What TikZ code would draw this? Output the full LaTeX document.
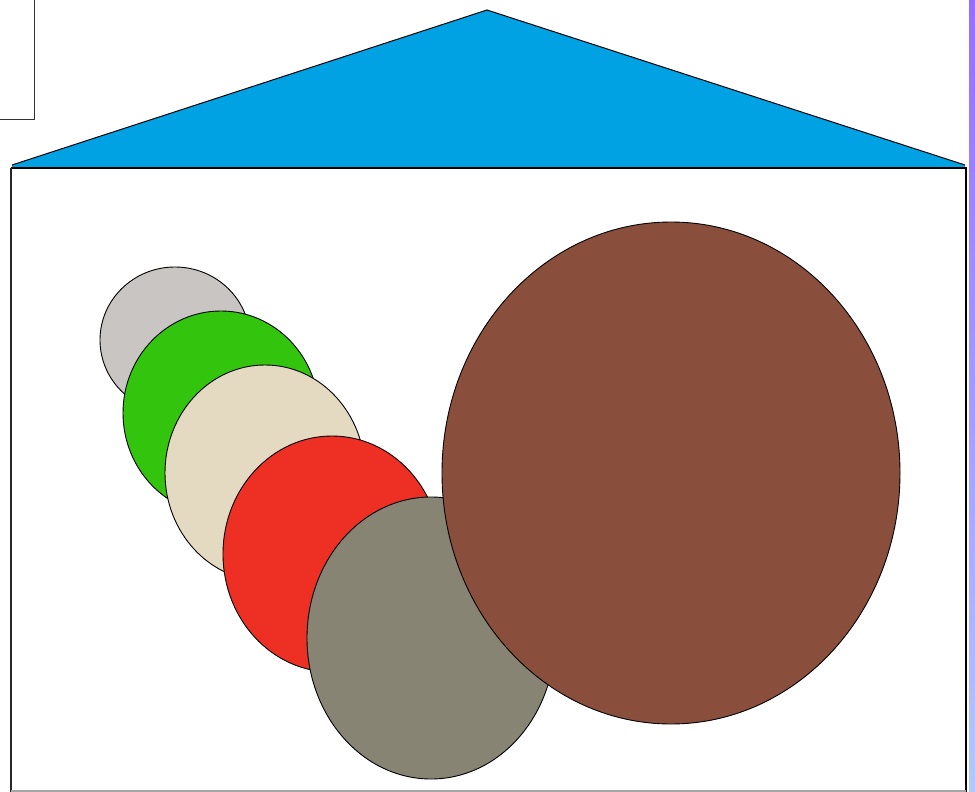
\documentclass[tikz,border=0pt]{standalone}
\begin{document}
\begin{tikzpicture}[x=1pt,y=-1pt]
\definecolor{roofblue}{RGB}{0,162,228}
\definecolor{cgray}{RGB}{200,197,194}
\definecolor{cgreen}{RGB}{51,196,14}
\definecolor{cbeige}{RGB}{228,218,194}
\definecolor{cred}{RGB}{238,47,35}
\definecolor{colive}{RGB}{135,132,116}
\definecolor{cbrown}{RGB}{138,78,60}
\definecolor{stripTop}{RGB}{150,110,255}
\definecolor{stripBot}{RGB}{180,200,255}
\tikzset{ball/.style={draw=black,line width=0.9pt}}
\useasboundingbox (0,0) rectangle (975,792);
\fill[white] (0,0) rectangle (975,792);
% top-left box edges
\draw[black!80,line width=0.9pt] (0,119) -- (34,119) -- (34,0);
% right strip
\shade[top color=stripTop,bottom color=stripBot] (969,0) rectangle (975,792);
% roof
\fill[roofblue] (12,167) -- (12,165) -- (487,10) -- (965,165) -- (965,167) -- cycle;
\draw[black,line width=1pt] (12,165) -- (487,10) -- (965,165);
% house
\draw[black,line width=1.5pt] (11,168) -- (966,168) -- (966,792);
\draw[black!85,line width=2pt] (11,168) -- (11,792);
\draw[black!35,line width=1.2pt] (11,791) -- (966,791);
% balls
\draw[ball,fill=cgray] (175,340) ellipse [x radius=75pt,y radius=73pt];
\draw[ball,fill=cgreen] (221,413) ellipse [x radius=98pt,y radius=102pt];
\draw[ball,fill=cbeige] (265,473) ellipse [x radius=100pt,y radius=108pt];
\draw[ball,fill=cred] (332,554) ellipse [x radius=109pt,y radius=118pt];
\draw[ball,fill=colive] (431,638) ellipse [x radius=124pt,y radius=141pt];
\draw[ball,fill=cbrown] (671,473) ellipse [x radius=229pt,y radius=251pt];
\end{tikzpicture}
\end{document}
